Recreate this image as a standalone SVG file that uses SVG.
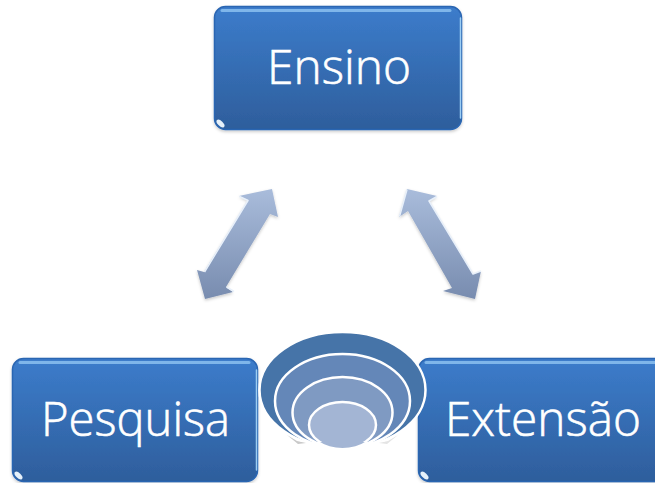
<svg xmlns="http://www.w3.org/2000/svg" width="655" height="483" viewBox="0 0 655 483">
<style>
.box{fill:url(#bg);stroke:#2b66b2;stroke-width:1.500}
.hi{fill:none;stroke:#7fb6ea;stroke-width:3;stroke-linecap:round}
.side{fill:none;stroke:#9ccdf3;stroke-width:1.500;stroke-linecap:round}
.spot{fill:#e6f1fa}
.lab{font-family:"Open Sans","Liberation Sans",sans-serif;font-weight:300;fill:#fff;stroke:#fff;stroke-width:.6;font-size:48px}
.arr{fill:url(#ag)}
.edge{fill:none;stroke:#e8f0fa;stroke-width:1.500;stroke-linejoin:round}
.ring{stroke:#fff;stroke-width:2.500}
</style>
<defs>
<linearGradient id="bg" x1="0" y1="0" x2="0" y2="1"><stop offset="0" stop-color="#3c7ccb"/><stop offset="1" stop-color="#2e5e9c"/></linearGradient>
<linearGradient id="ag" x1="0" y1="0" x2="0" y2="1"><stop offset="0" stop-color="#a9bcdb"/><stop offset="1" stop-color="#788caf"/></linearGradient>
<filter id="sh" x="-5%" y="-5%" width="110%" height="112%"><feDropShadow dx="0" dy="1.500" stdDeviation="1.500" flood-color="#000" flood-opacity=".22"/></filter>
<clipPath id="cut"><rect x="250" y="320" width="190" height="122"/></clipPath>
</defs>
<rect width="655" height="483" fill="#fff"/>
<g id="connectors">
<polygon class="arr" filter="url(#sh)" points="272,189 239,196 248,200 204,272 197,270 205,299 233,292 226,287 270,214 278,217"/>
<path class="edge" d="M239.500 196.500L248 200.500L204.500 272M234 291.500L226.500 287"/>
<polygon class="arr" filter="url(#sh)" points="407,189 437,196 429,201 473,274 481,271 475,299 443,291 452,288 408,211 399,217"/>
<path class="edge" d="M407 189.500L399.500 216.500M437 196.500L429 201L473 274L481 271"/>
</g>
<g id="ensino">
<rect class="box" filter="url(#sh)" x="214.500" y="6.500" width="247" height="123" rx="11"/>
<path class="hi" d="M222 10.500H450"/>
<path class="side" d="M460.500 18V118"/>
<ellipse class="spot" cx="220.500" cy="123.500" rx="5" ry="2.500" transform="rotate(45 220.500 123.500)"/>
<text class="lab" x="267" y="84" textLength="144" lengthAdjust="spacingAndGlyphs">Ensino</text>
</g>
<g id="pesquisa">
<rect class="box" filter="url(#sh)" x="12.500" y="358.500" width="245" height="123" rx="11"/>
<path class="hi" d="M20 362.500H249"/>
<path class="side" d="M256.500 370V470"/>
<ellipse class="spot" cx="18.500" cy="475.500" rx="5" ry="2.500" transform="rotate(45 18.500 475.500)"/>
<text class="lab" x="41" y="436" textLength="189" lengthAdjust="spacingAndGlyphs">Pesquisa</text>
</g>
<g id="extensao">
<rect class="box" filter="url(#sh)" x="418.500" y="358.500" width="250" height="123" rx="11"/>
<path class="hi" d="M426 362.500H660"/>
<ellipse class="spot" cx="424.500" cy="475.500" rx="5" ry="2.500" transform="rotate(45 424.500 475.500)"/>
<text class="lab" x="445" y="436" textLength="196" lengthAdjust="spacingAndGlyphs">Extensão</text>
</g>
<g id="rings">
<path d="M287 435L297 441L306 443L298 444Z" fill="#c9c9c9"/>
<path d="M398 435L388 441L379 443L387 444Z" fill="#e4e4e4"/>
<g clip-path="url(#cut)">
<ellipse class="ring" cx="342.500" cy="390" rx="83" ry="58" fill="#4674a8"/>
<ellipse class="ring" cx="342.500" cy="401" rx="67.500" ry="47" fill="#6487b8"/>
<ellipse class="ring" cx="342.500" cy="412.500" rx="50" ry="35.500" fill="#7f9ac2"/>
</g>
<ellipse cx="342.500" cy="425" rx="33.500" ry="23" fill="#a3b5d4"/>
<ellipse cx="342.500" cy="425" rx="33.500" ry="23" fill="none" class="ring" clip-path="url(#cut)"/>
</g>
</svg>
